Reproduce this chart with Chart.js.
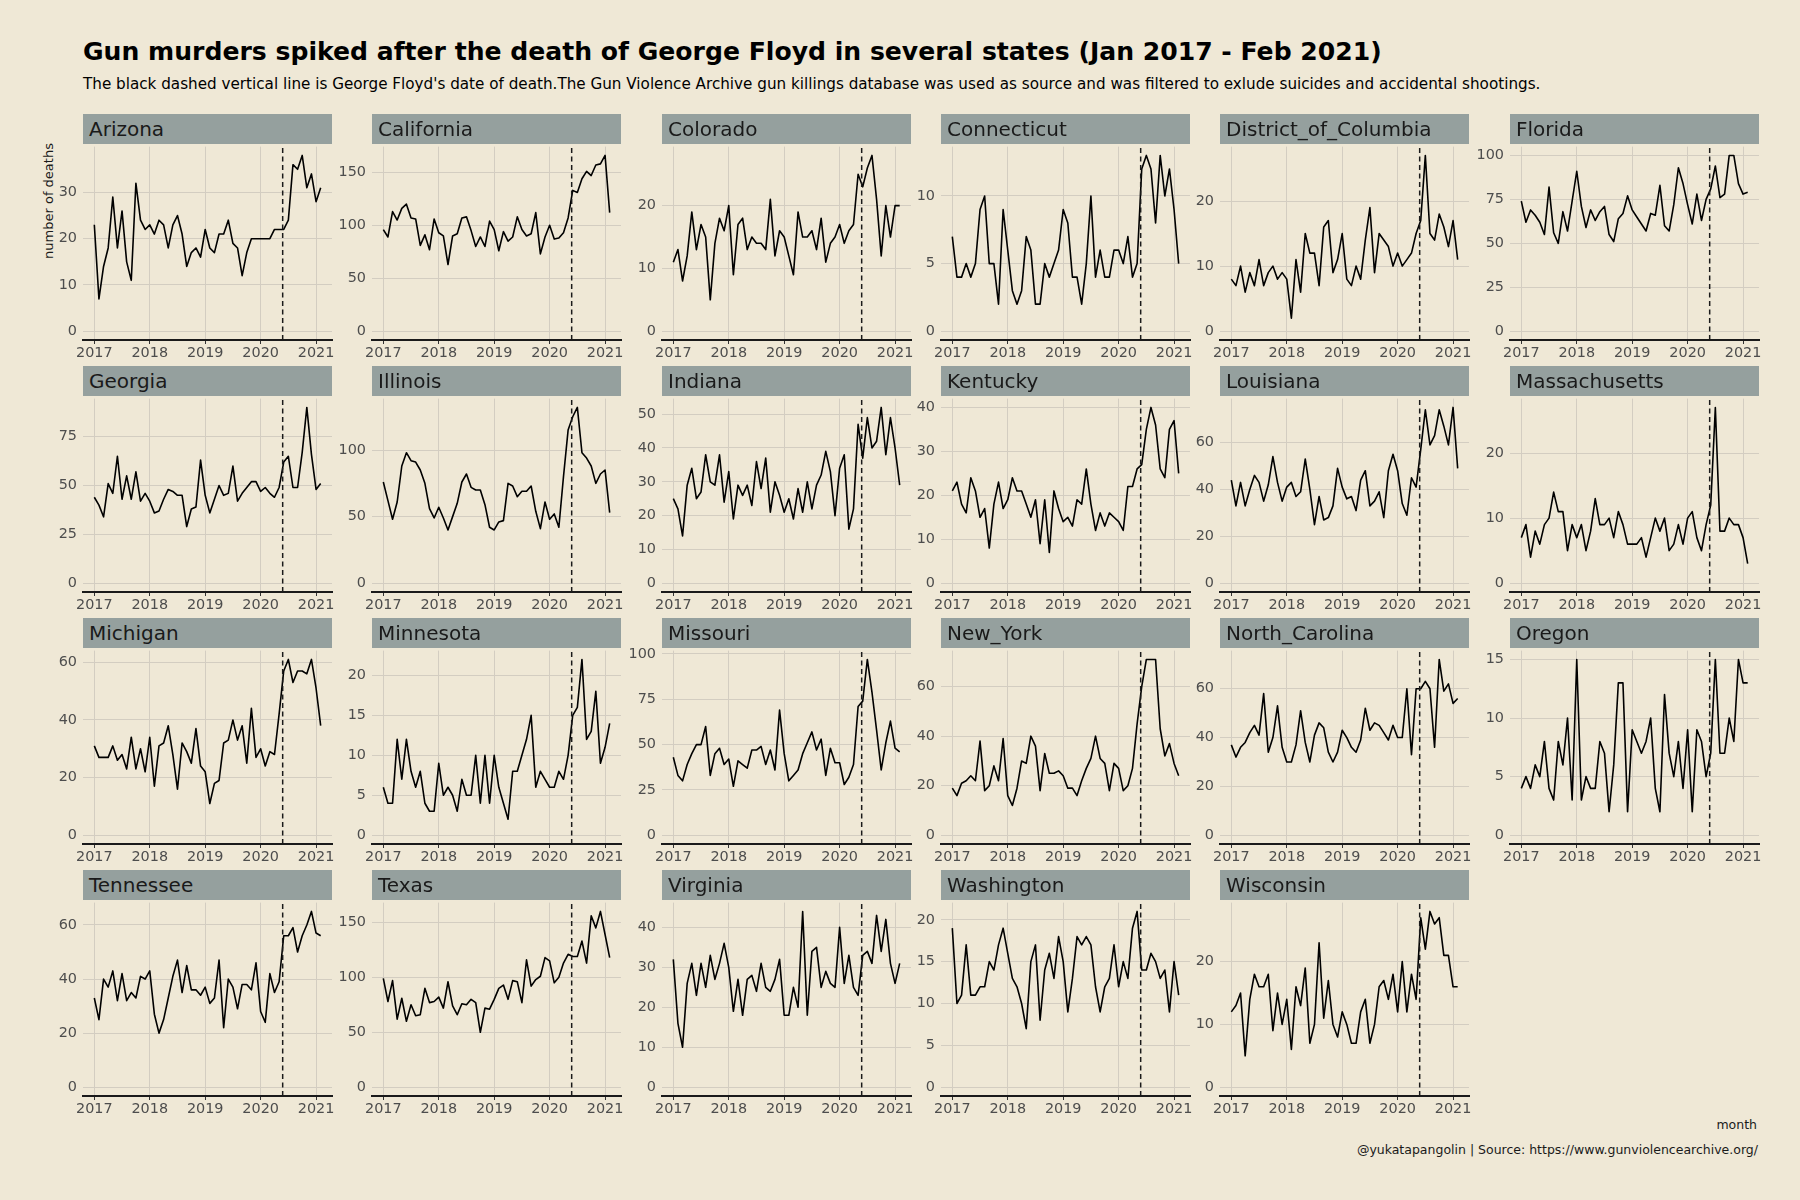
<!DOCTYPE html>
<html><head><meta charset="utf-8">
<script src="https://cdn.jsdelivr.net/npm/chart.js@4"></script>
<style>
html,body{margin:0;padding:0;background:#efe8d6;}
body{width:1800px;height:1200px;position:relative;overflow:hidden;font-family:"DejaVu Sans",sans-serif;}
.txt{position:absolute;white-space:nowrap;}
.strip{position:absolute;background:#95a09e;color:#1a1a1a;font-size:20px;display:flex;align-items:center;padding-left:6px;box-sizing:border-box;z-index:2;}
canvas{position:absolute;z-index:1;}
</style></head><body>
<div class="txt" id="title" style="left:83px;top:39px;font-size:25.1px;line-height:25px;font-weight:bold;color:#000;">Gun murders spiked after the death of George Floyd in several states (Jan 2017 - Feb 2021)</div>
<div class="txt" id="subtitle" style="left:83px;top:77px;font-size:15.2px;line-height:15px;color:#000;">The black dashed vertical line is George Floyd's date of death.The Gun Violence Archive gun killings database was used as source and was filtered to exlude suicides and accidental shootings.</div>
<div class="txt" style="left:48px;top:201px;font-size:13px;line-height:13px;color:#1a1a1a;transform:translate(-50%,-50%) rotate(-90deg);">number of deaths</div>
<div class="txt" style="right:43px;top:1118px;font-size:12.5px;line-height:14px;color:#1a1a1a;">month</div>
<div class="txt" style="right:42px;top:1143px;font-size:12.5px;line-height:14px;color:#1a1a1a;">@yukatapangolin | Source: https://www.gunviolencearchive.org/</div>
<script>
// ---- data: monthly gun murders, Jan 2017 (index 0) .. Feb 2021 (index 49)
const yearTickMonths = [0, 12, 24, 36, 48];
const yearTickLabels = ['2017', '2018', '2019', '2020', '2021'];
const floydMonthIndex = 40 + 24 / 31; // 25 May 2020

const states = ['Arizona','California','Colorado','Connecticut','District_of_Columbia','Florida',
  'Georgia','Illinois','Indiana','Kentucky','Louisiana','Massachusetts',
  'Michigan','Minnesota','Missouri','New_York','North_Carolina','Oregon',
  'Tennessee','Texas','Virginia','Washington','Wisconsin'];

const Arizona = [23,7,14,18,29,18,26,15,11,32,24,22,23,21,24,23,18,23,25,21,14,17,18,16,22,18,17,21,21,24,19,18,12,17,20,20,20,20,20,22,22,22,24,36,35,38,31,34,28,31];
const California = [96,89,113,105,116,120,107,106,81,91,77,106,93,90,63,90,92,107,108,95,80,89,80,104,96,76,94,85,89,108,96,90,92,112,73,89,100,87,88,93,107,133,131,144,151,147,157,158,166,112];
const Colorado = [11,13,8,12,19,13,17,15,5,14,18,16,20,9,17,18,13,15,14,14,13,21,12,16,15,12,9,19,15,15,16,13,18,11,14,15,17,14,16,17,25,23,26,28,21,12,20,15,20,20];
const Connecticut = [7,4,4,5,4,5,9,10,5,5,2,9,6,3,2,3,7,6,2,2,5,4,5,6,9,8,4,4,2,5,10,4,6,4,4,6,6,5,7,4,5,12,13,12,8,13,10,12,9,5];
const District_of_Columbia = [8,7,10,6,9,7,11,7,9,10,8,9,8,2,11,6,15,12,12,7,16,17,9,11,15,8,7,10,8,14,19,9,15,14,13,10,12,10,11,12,15,17,27,15,14,18,16,13,17,11];
const Florida = [74,62,69,66,62,55,82,56,50,68,57,74,91,71,59,69,63,68,71,55,51,64,67,77,69,65,61,57,67,66,83,60,57,72,93,84,72,61,78,63,75,81,94,76,78,100,100,84,78,79];
const Georgia = [44,40,34,51,46,65,43,55,43,57,42,46,42,36,37,43,48,47,45,45,29,38,39,63,45,36,43,50,45,46,60,42,46,49,52,52,47,49,46,44,49,62,65,49,49,67,90,66,48,51];
const Illinois = [76,62,48,61,88,98,92,91,85,75,56,49,57,49,40,50,60,76,82,72,70,70,59,42,40,46,47,75,73,65,69,69,73,54,41,61,48,52,42,80,115,125,132,98,94,88,75,82,85,53];
const Indiana = [25,22,14,29,34,25,27,38,30,29,38,24,33,19,29,26,29,23,36,28,37,21,30,26,21,25,19,28,21,30,22,29,32,39,33,20,34,38,16,22,47,37,49,40,42,52,38,49,40,29];
const Kentucky = [21,23,18,16,24,21,15,17,8,18,23,17,19,24,21,21,18,15,19,9,19,7,21,17,14,15,13,19,18,26,18,12,16,13,16,15,14,12,22,22,26,27,35,40,36,26,24,35,37,25];
const Louisiana = [44,33,43,33,40,46,43,35,42,54,43,35,41,43,37,39,53,40,25,37,27,28,33,49,41,36,37,31,44,48,33,35,39,28,48,55,48,34,29,45,41,57,74,59,63,74,67,59,75,49];
const Massachusetts = [7,9,4,8,6,9,10,14,11,11,5,9,7,9,5,8,13,9,9,10,7,11,9,6,6,6,7,4,7,10,8,10,5,6,9,6,10,11,7,5,9,12,27,8,8,10,9,9,7,3];
const Michigan = [31,27,27,27,31,26,28,23,34,23,30,22,34,17,31,32,38,28,16,32,29,25,37,24,22,11,18,19,32,33,40,33,38,25,44,27,30,24,29,28,42,57,61,53,57,57,56,61,51,38];
const Minnesota = [6,4,4,12,7,12,8,6,8,4,3,3,9,5,6,5,3,7,5,5,10,4,10,4,10,6,4,2,8,8,10,12,15,6,8,7,6,6,8,7,10,15,16,22,12,13,18,9,11,14];
const Missouri = [43,33,30,39,45,50,50,60,33,45,48,39,42,27,41,39,37,47,47,49,39,47,36,69,45,30,33,36,45,51,57,47,53,33,48,40,40,28,32,39,71,74,97,79,58,36,51,63,48,46];
const New_York = [19,16,21,22,24,22,38,18,20,28,22,39,16,12,19,30,29,40,36,18,33,25,25,26,24,19,19,16,22,27,31,40,31,29,18,29,27,18,20,27,45,60,71,71,71,43,32,37,29,24];
const North_Carolina = [37,32,36,38,42,45,41,58,34,40,53,36,30,30,37,51,38,30,41,46,44,34,30,34,43,40,36,34,39,52,43,46,45,42,39,45,40,40,60,33,60,60,63,60,36,72,59,62,54,56];
const Oregon = [4,5,4,6,5,8,4,3,8,6,10,3,15,3,5,4,4,8,7,2,6,13,13,2,9,8,7,8,10,4,2,12,7,5,8,4,9,2,9,8,5,7,15,7,7,10,8,15,13,13];
const Tennessee = [33,25,40,37,43,32,42,32,35,33,41,40,43,27,20,25,33,41,47,35,45,36,36,34,37,31,33,47,22,40,37,29,38,38,36,46,28,24,42,35,39,56,56,59,50,56,60,65,57,56];
const Texas = [99,78,97,62,81,60,75,65,66,90,77,78,82,72,96,74,66,76,75,80,77,50,72,71,80,90,93,80,97,96,77,116,92,98,101,118,115,95,100,113,121,119,119,133,113,156,145,160,139,118];
const Virginia = [32,16,10,26,31,23,31,25,33,27,31,36,30,19,27,18,27,28,24,31,25,24,27,32,18,18,25,20,44,18,34,35,25,29,26,25,40,26,33,25,23,33,34,31,43,34,42,31,26,31];
const Washington = [19,10,11,17,11,11,12,12,15,14,17,19,16,13,12,10,7,15,17,8,14,16,13,18,15,9,13,18,17,18,17,12,9,12,13,17,12,15,13,19,21,14,14,16,15,13,14,9,15,11];
const Wisconsin = [12,13,15,5,14,18,16,16,18,9,15,10,14,6,16,13,19,7,10,23,11,17,10,8,12,10,7,7,12,14,7,10,16,17,14,18,12,20,12,18,14,27,22,28,26,27,21,21,16,16];

const stateSeries = [Arizona, California, Colorado, Connecticut, District_of_Columbia, Florida,
  Georgia, Illinois, Indiana, Kentucky, Louisiana, Massachusetts,
  Michigan, Minnesota, Missouri, New_York, North_Carolina, Oregon,
  Tennessee, Texas, Virginia, Washington, Wisconsin];

// y tick spacing per panel
const yTickSteps = [10,50,10,5,10,25, 25,50,10,10,20,10, 20,5,25,20,20,5, 20,50,10,5,10];

// ---- layout
const colLeft = [83, 372, 662, 941, 1220, 1510];
const rowTop = [114, 366, 618, 870];
const PANEL_W = 249, STRIP_H = 30, PLOT_H = 196;
const Y_AXIS_W = 50, X_AXIS_H = 28, PAD_TOP = 12, PAD_RIGHT = 22;
const X_MIN = -2.45, X_MAX = 51.45;
const FONT = 'DejaVu Sans';

states.forEach((name, i) => {
  const col = i % 6, row = Math.floor(i / 6);
  const left = colLeft[col], top = rowTop[row];
  const strip = document.createElement('div');
  strip.className = 'strip';
  strip.style.left = left + 'px';
  strip.style.top = top + 'px';
  strip.style.width = PANEL_W + 'px';
  strip.style.height = STRIP_H + 'px';
  strip.textContent = name;
  document.body.appendChild(strip);

  const cv = document.createElement('canvas');
  const w = Y_AXIS_W + PANEL_W + PAD_RIGHT, h = PAD_TOP + PLOT_H + X_AXIS_H;
  cv.width = w; cv.height = h;
  cv.style.width = w + 'px'; cv.style.height = h + 'px';
  cv.style.left = (left - Y_AXIS_W) + 'px';
  cv.style.top = (top + STRIP_H - PAD_TOP) + 'px';
  document.body.appendChild(cv);

  const vals = stateSeries[i];
  const vmax = Math.max(...vals);
  const yMin = -0.05 * vmax, yMax = 1.05 * vmax;
  const step = yTickSteps[i];
  const yTicks = [];
  for (let t = 0; t <= yMax + 1e-9; t += step) yTicks.push(t);

  new Chart(cv, {
    type: 'line',
    data: {
      datasets: [
        { data: [{x: floydMonthIndex, y: yMin}, {x: floydMonthIndex, y: yMax}],
          borderColor: '#1a1a1a', borderWidth: 1.5, borderDash: [5, 3.5], pointRadius: 0 },
        { data: vals.map((v, k) => ({x: k, y: v})),
          borderColor: '#000', borderWidth: 1.6, pointRadius: 0, tension: 0,
          borderJoinStyle: 'round' }
      ]
    },
    options: {
      responsive: false, animation: false, devicePixelRatio: 1,
      layout: { padding: { top: PAD_TOP, right: PAD_RIGHT, left: 0, bottom: 0 } },
      plugins: { legend: { display: false }, tooltip: { enabled: false }, title: { display: false } },
      scales: {
        x: {
          type: 'linear', min: X_MIN, max: X_MAX,
          afterBuildTicks: s => { s.ticks = yearTickMonths.map(v => ({ value: v })); },
          afterFit: s => { s.height = X_AXIS_H; },
          ticks: { callback: (v, idx) => yearTickLabels[idx], color: '#4d4d4d',
                   font: { family: FONT, size: 14.4 }, padding: 1, maxRotation: 0, autoSkip: false },
          grid: { color: '#d3cdc1', lineWidth: 1, drawTicks: true, tickLength: 4, tickColor: '#333', tickWidth: 1 },
          border: { display: true, color: '#1a1a1a', width: 2 }
        },
        y: {
          type: 'linear', min: yMin, max: yMax,
          afterBuildTicks: s => { s.ticks = yTicks.map(v => ({ value: v })); },
          afterFit: s => { s.width = Y_AXIS_W; },
          ticks: { color: '#4d4d4d', font: { family: FONT, size: 14.4 }, padding: 6 },
          grid: { color: '#d3cdc1', lineWidth: 1, drawTicks: false },
          border: { display: false }
        }
      }
    }
  });
});
</script>
</body></html>
